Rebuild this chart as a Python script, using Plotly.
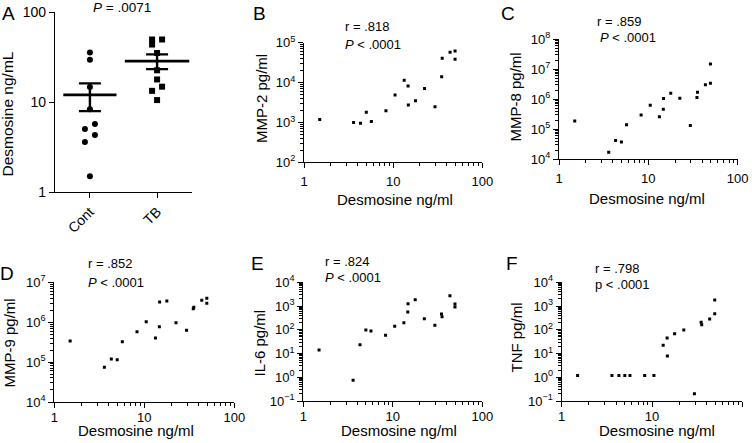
import numpy as np
import plotly.graph_objects as go

# ---------------- data ----------------
desmosine = [1.5, 3.6, 4.3, 5.0, 5.7, 8.3, 10.5, 13.3, 14.7, 14.8, 17.8, 22.5,
             29.5, 35.0, 35.5, 43.5, 49.5, 49.5]
group = ["Cont", "Cont", "Cont", "Cont", "Cont", "Cont", "TB", "TB", "Cont", "TB",
         "TB", "TB", "Cont", "TB", "Cont", "TB", "TB", "TB"]
mmp2 = [1190, 1000, 960, 1810, 1060, 1950, 4900, 11500, 8260, 2720, 3480, 7110,
        2460, 13900, 40700, 57800, 62300, 38400]
mmp8 = [188000, 17200, 42100, 37200, 141000, 299000, 630000, 263000, 462000,
        1050000, 1580000, 1080000, 134000, 1140000, 1720000, 3040000, 3440000, 14900000]
mmp9 = [338000, 74100, 120000, 115000, 324000, 578000, 1030000, 402000, 771000,
        3210000, 3400000, 971000, 627000, 2180000, 2360000, 3540000, 3970000, 2980000]
il6 = [14.1, 0.745, 23.5, 97.8, 89, 58.5, 140, 199, 561, 1260, 1850, 293, 155,
       462, 357, 2730, 1220, 912]
tnf = [1.2, 1.2, 1.2, 1.2, 1.2, 1.2, 1.2, 22.2, 45, 7.9, 68.5, 97.8, 0.2, 207,
       164, 284, 475, 1810]

categories = ["Cont", "TB"]
x_tick_labels = ["1", "10", "100"]
a_y_tick_labels = ["1", "10", "100"]

W, H = 752, 443
FONT = "Liberation Sans, Arial, Helvetica, sans-serif"


def px_x(x):
    return x / W


def px_y(y):
    return 1 - y / H


def dom_x(a, b):
    return [px_x(a), px_x(b)]


def dom_y(top, bottom):
    return [px_y(bottom), px_y(top)]


def pow_label(e):
    if e < 0:
        return "10<sup>\u2212%d</sup>" % abs(e)
    return "10<sup>%d</sup>" % e


base_axis = dict(showline=True, linecolor="black", linewidth=1.3, ticks="outside",
                 ticklen=5, tickwidth=1.3, tickcolor="black", showgrid=False,
                 zeroline=False, automargin=False,
                 tickfont=dict(size=13, color="black", family=FONT))


def minor_vals(lo, hi):
    return [k * 10.0 ** e for e in range(lo, hi) for k in range(2, 10)]


minor_style = dict(ticks="outside", ticklen=3, tickwidth=1, tickcolor="black",
                   showgrid=False, tickmode="array")

fig = go.Figure()
layout = dict(width=W, height=H, margin=dict(l=0, r=0, t=0, b=0, pad=0, autoexpand=False),
              paper_bgcolor="white", plot_bgcolor="white", showlegend=False,
              font=dict(family=FONT, color="black"))
annotations = []


def ann(text, x, y, size, xanchor="left", angle=0):
    annotations.append(dict(text=text, x=px_x(x), y=px_y(y), xref="paper", yref="paper",
                            xanchor=xanchor, yanchor="middle", showarrow=False,
                            textangle=angle, font=dict(size=size, family=FONT, color="black")))


# ---------------- panel A ----------------
a_left, a_right = 55, 192
a_range = [-0.52, 1.52]
units_per_px = (a_range[1] - a_range[0]) / (a_right - a_left)


def dodge(vals, ppd=90.0, gap=7.0, step=5.0):
    v = np.asarray(vals, float)
    order = np.argsort(v, kind="stable")
    ys = np.log10(v[order]) * ppd
    off = np.zeros(len(v))
    clusters = [[order[0]]]
    for k in range(1, len(order)):
        if ys[k] - ys[k - 1] < gap:
            clusters[-1].append(order[k])
        else:
            clusters.append([order[k]])
    for c in clusters:
        if len(c) > 1:
            for j, idx in enumerate(c):
                off[idx] = step * (1 if j % 2 else -1)
    return off


a_style = {"Cont": dict(symbol="circle", mean_len=38),
           "TB": dict(symbol="square", mean_len=46)}

for gi, g in enumerate(categories):
    vals = np.array([d for d, gg in zip(desmosine, group) if gg == g])
    offs = dodge(vals) * units_per_px
    fig.add_trace(go.Scatter(x=gi + offs, y=vals, mode="markers", xaxis="x", yaxis="y",
                             marker=dict(symbol=a_style[g]["symbol"], size=6, color="black"),
                             hoverinfo="skip"))
    mean = vals.mean()
    sem = vals.std(ddof=1) / np.sqrt(len(vals))
    fig.add_trace(go.Scatter(x=[gi], y=[mean], mode="markers", xaxis="x", yaxis="y",
                             marker=dict(symbol="line-ew", size=a_style[g]["mean_len"],
                                         color="black", line=dict(width=2.6, color="black")),
                             error_y=dict(type="data", array=[sem], visible=True,
                                          thickness=2.4, width=11, color="black"),
                             hoverinfo="skip"))

layout["xaxis"] = dict(base_axis, domain=dom_x(a_left, a_right), range=a_range,
                       tickmode="array", tickvals=[0, 1], ticktext=categories,
                       tickangle=-45, anchor="y", tickfont=dict(size=14, family=FONT, color="black"))
layout["yaxis"] = dict(base_axis, domain=dom_y(12, 192), type="log", range=[0, 2],
                       tickmode="array", tickvals=[1, 10, 100], ticktext=a_y_tick_labels,
                       anchor="x", tickfont=dict(size=14, family=FONT, color="black"))
ann("A", 8.5, 13, 19, "center")
ann("<i>P</i> = .0071", 122, 8, 13.5, "center")
ann("Desmosine ng/mL", 7.5, 114, 15.5, "center", -90)

# ---------------- scatter panels ----------------
panels = [
    dict(y=mmp2, lo=2, hi=5, xd=(304, 482.3), yd=(42.7, 162.3), yt="MMP-2 pg/ml",
         ytp=(261, 99), xtp=(395, 200), r="r = .818", rp=(342.7, 26.7),
         p="<i>P</i> < .0001", pp=(342.7, 44.3), L="B", Lp=(259, 13), row=1),
    dict(y=mmp8, lo=4, hi=8, xd=(559, 737.7), yd=(39.3, 159.2), yt="MMP-8 pg/ml",
         ytp=(515.5, 97), xtp=(647, 198), r="r = .859", rp=(595, 21.7),
         p="<i>P</i> < .0001", pp=(598, 37.3), L="C", Lp=(508, 13), row=1),
    dict(y=mmp9, lo=4, hi=7, xd=(54.3, 234.3), yd=(282.3, 402), yt="MMP-9 pg/ml",
         ytp=(9, 343.5), xtp=(136, 430), r="r = .852", rp=(86, 263),
         p="<i>P</i> < .0001", pp=(86, 282), L="D", Lp=(7, 273), row=2),
    dict(y=il6, lo=-1, hi=4, xd=(303.3, 482.3), yd=(282.3, 401), yt="IL-6 pg/ml",
         ytp=(259, 343.5), xtp=(399, 430), r="r = .824", rp=(323, 261),
         p="<i>P</i> < .0001", pp=(323, 277.7), L="E", Lp=(257, 263), row=2),
    dict(y=tnf, lo=-1, hi=4, xd=(561.7, 742.3), yd=(282.3, 401), yt="TNF pg/ml",
         ytp=(516, 337.5), xtp=(657, 430), r="r = .798", rp=(593, 268),
         p="p < .0001", pp=(593, 284), L="F", Lp=(512, 263), row=2),
]

for i, pn in enumerate(panels, start=2):
    xa, ya = "x%d" % i, "y%d" % i
    fig.add_trace(go.Scatter(x=desmosine, y=pn["y"], mode="markers", xaxis=xa, yaxis=ya,
                             marker=dict(symbol="square", size=3, color="black"),
                             hoverinfo="skip"))
    layout["xaxis%d" % i] = dict(base_axis, domain=dom_x(*pn["xd"]), type="log", range=[0, 2],
                                 tickmode="array", tickvals=[1, 10, 100], ticktext=x_tick_labels,
                                 anchor=ya, ticklabelstandoff=2 if pn["row"] == 1 else -2,
                                 minor=dict(minor_style, tickvals=minor_vals(0, 2)))
    exps = list(range(pn["lo"], pn["hi"] + 1))
    layout["yaxis%d" % i] = dict(base_axis, domain=dom_y(*pn["yd"]), type="log",
                                 range=[pn["lo"], pn["hi"]], tickmode="array",
                                 tickvals=[10.0 ** e for e in exps],
                                 ticktext=[pow_label(e) for e in exps], anchor=xa,
                                 minor=dict(minor_style, tickvals=minor_vals(pn["lo"], pn["hi"])))
    ann(pn["L"], pn["Lp"][0], pn["Lp"][1], 19, "center")
    ann(pn["r"], pn["rp"][0], pn["rp"][1], 13)
    ann(pn["p"], pn["pp"][0], pn["pp"][1], 13)
    ann(pn["yt"], pn["ytp"][0], pn["ytp"][1], 15, "center", -90)
    ann("Desmosine ng/ml", pn["xtp"][0], pn["xtp"][1], 15, "center")

layout["annotations"] = annotations
fig.update_layout(**layout)
fig.write_html("out.html", config={"displayModeBar": False},
               post_script="document.body.style.margin='0';document.body.style.overflow='hidden';")
